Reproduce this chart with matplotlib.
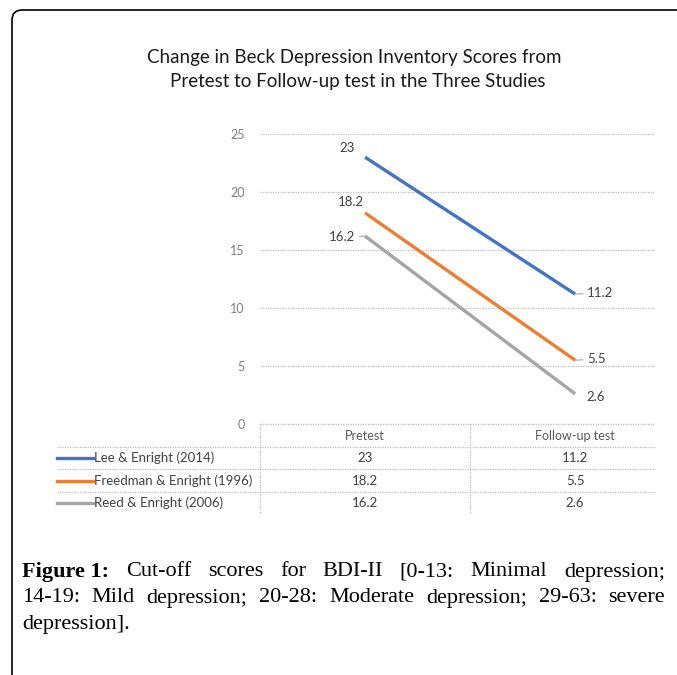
import numpy as np
import matplotlib.pyplot as plt
from matplotlib.patches import FancyBboxPatch
from matplotlib.lines import Line2D

# data
tests = ["Pretest", "Follow-up test"]
studies = ["Lee & Enright (2014)", "Freedman & Enright (1996)", "Reed & Enright (2006)"]
lee = [23, 11.2]
freedman = [18.2, 5.5]
reed = [16.2, 2.6]
yticks = [0, 5, 10, 15, 20, 25]
colors = ["#4472C4", "#ED7D31", "#A5A5A5"]

W, H = 677, 675
plt.rcParams['font.family'] = ['Lato', 'DejaVu Sans']


def fx(x):
    return x / W


def fy(y):
    return 1 - y / H


fig = plt.figure(figsize=(W / 100, H / 100), dpi=100)

# outer frame with rounded corner
frame = FancyBboxPatch((fx(12), fy(700)), fx(720), 690 / H,
                       boxstyle="round,pad=0,rounding_size=0.015",
                       transform=fig.transFigure, fill=False, ec="black", lw=1.2)
fig.patches.append(frame)

fig.text(fx(354), fy(57), "Change in Beck Depression Inventory Scores from",
         ha="center", va="center", fontsize=13.5, color="#1a1a1a")
fig.text(fx(358), fy(81), "Pretest to Follow-up test in the Three Studies",
         ha="center", va="center", fontsize=13.5, color="#1a1a1a")

ax = fig.add_axes([fx(260), fy(424), fx(655) - fx(260), fy(134) - fy(424)])
x = np.arange(len(tests))
series = [lee, freedman, reed]
for vals, c in zip(series, colors):
    ax.plot(x, vals, color=c, lw=2.4, solid_capstyle="butt")

ax.set_xlim(-0.5, 1.38)
ax.set_ylim(0, 25)
ax.set_yticks(yticks)
ax.set_xticks([])
ax.tick_params(axis="y", length=0, pad=11, labelsize=9, labelcolor="#7f7f7f")
for s in ax.spines.values():
    s.set_visible(False)
ax.yaxis.grid(True, color="#BFBFBF", lw=0.9, ls=(0, (1, 1)))
ax.set_axisbelow(True)

# data labels
lab = dict(fontsize=9.5, color="#404040", textcoords="offset pixels")
lead = dict(arrowstyle="-", color="#A6A6A6", lw=0.8, shrinkA=1, shrinkB=0)
ax.annotate(f"{lee[0]:g}", (0, lee[0]), xytext=(-18, 9), ha="center", va="center", **lab)
ax.annotate(f"{freedman[0]:g}", (0, freedman[0]), xytext=(-14, 11), ha="center", va="center", **lab)
ax.annotate(f"{reed[0]:g}", (0, reed[0]), xytext=(-10, -1), ha="right", va="center",
            arrowprops=lead, **lab)
ax.annotate(f"{lee[1]:g}", (1, lee[1]), xytext=(12, 1), ha="left", va="center",
            arrowprops=lead, **lab)
ax.annotate(f"{freedman[1]:g}", (1, freedman[1]), xytext=(12, 1), ha="left", va="center",
            arrowprops=lead, **lab)
ax.annotate(f"{reed[1]:g}", (1, reed[1]), xytext=(11, -3), ha="left", va="center", **lab)

# data table under the plot
tcol = "#BFBFBF"
rows_y = [436, 458, 481, 503]
fig.add_artist(Line2D([fx(260), fx(655)], [fy(424), fy(424)], color=tcol, lw=0.9,
                      ls=(0, (1, 1)), transform=fig.transFigure))
for yy in [447, 469, 492]:
    fig.add_artist(Line2D([fx(57), fx(655)], [fy(yy), fy(yy)], color=tcol, lw=0.9,
                          ls=(0, (1, 1)), transform=fig.transFigure))
for xx in [260, 470]:
    fig.add_artist(Line2D([fx(xx), fx(xx)], [fy(424), fy(514)], color=tcol, lw=0.9,
                          ls=(0, (1, 1)), transform=fig.transFigure))

axh = 424 - 134
for i, t in enumerate(tests):
    ax.text(x[i], -(rows_y[0] - 424) / axh, t, transform=ax.get_xaxis_transform(),
            ha="center", va="center", fontsize=9, color="#595959")

for r, (name, vals, c) in enumerate(zip(studies, series, colors)):
    yy = rows_y[r + 1]
    fig.add_artist(Line2D([fx(57), fx(93)], [fy(yy), fy(yy)], color=c, lw=2.4,
                          transform=fig.transFigure))
    fig.text(fx(94), fy(yy), name, ha="left", va="center", fontsize=9.5, color="#404040")
    for i, v in enumerate(vals):
        ax.text(x[i], -(yy - 424) / axh, f"{v:g}", transform=ax.get_xaxis_transform(),
                ha="center", va="center", fontsize=9.5, color="#404040")

# caption, justified like the source page
cap_lines = [
    ["Figure 1:", "Cut-off", "scores", "for", "BDI-II", "[0-13:", "Minimal", "depression;"],
    ["14-19:", "Mild", "depression;", "20-28:", "Moderate", "depression;", "29-63:", "severe"],
    ["depression]."],
]
cap_y = [572, 598, 625]
left, right = 22, 665
renderer = fig.canvas.get_renderer()
for li, words in enumerate(cap_lines):
    objs = []
    for w in words:
        bold = (w == "Figure 1:")
        t = fig.text(0, fy(cap_y[li]), w, fontsize=16, family="Liberation Serif",
                     weight="bold" if bold else "normal", ha="left", va="center",
                     color="black")
        objs.append(t)
    widths = [o.get_window_extent(renderer).width for o in objs]
    if li < 2 and len(objs) > 1:
        gap = (right - left - sum(widths)) / (len(objs) - 1)
    else:
        gap = 4
    pos = left
    for o, wd in zip(objs, widths):
        o.set_x(fx(pos))
        pos += wd + gap

fig.savefig("out.png", dpi=100)
